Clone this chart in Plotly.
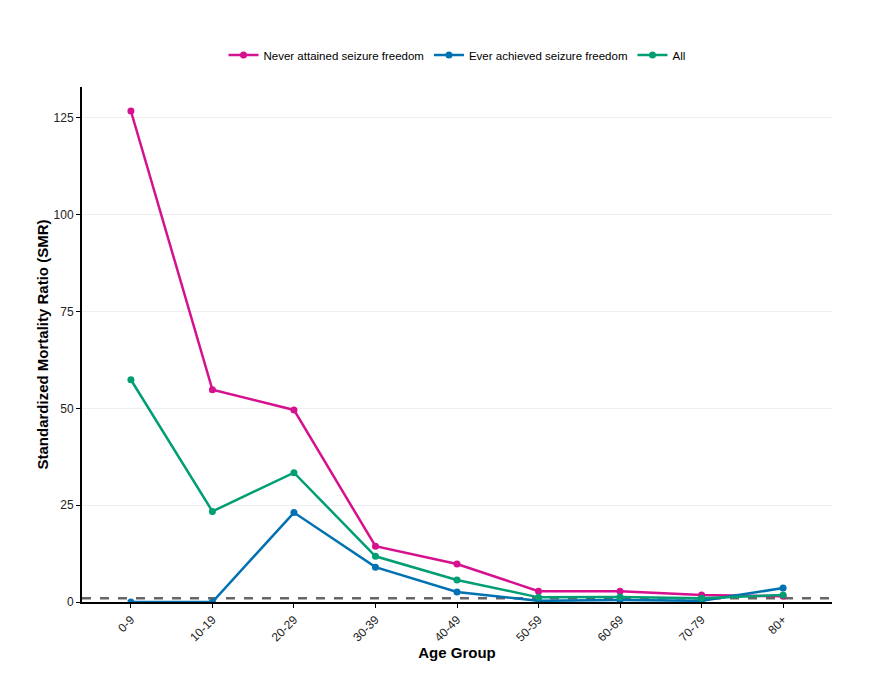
import plotly.graph_objects as go

age_groups = ["0-9", "10-19", "20-29", "30-39", "40-49", "50-59", "60-69", "70-79", "80+"]
never_smr = [126.8, 54.8, 49.6, 14.4, 9.8, 2.8, 2.8, 1.8, 1.5]
ever_smr = [0.0, 0.0, 23.1, 9.0, 2.6, 0.3, 0.5, 0.3, 3.6]
all_smr = [57.4, 23.4, 33.4, 11.8, 5.7, 1.2, 1.3, 1.0, 1.8]
y_ticks = [0, 25, 50, 75, 100, 125]

series = [
    ("Never attained seizure freedom", never_smr, "#D5118E"),
    ("Ever achieved seizure freedom", ever_smr, "#0072B2"),
    ("All", all_smr, "#009E73"),
]

fig = go.Figure()
for name, vals, col in series:
    fig.add_trace(go.Scatter(
        x=list(range(len(age_groups))), y=vals, name=name, mode="lines+markers",
        line=dict(color=col, width=2.5), marker=dict(color=col, size=7),
    ))

fig.add_shape(type="line", xref="paper", x0=0, x1=1, yref="y", y0=1, y1=1,
              line=dict(color="#666666", width=2.5, dash="dash"), layer="below")

fig.update_layout(
    width=869, height=696,
    paper_bgcolor="white", plot_bgcolor="white",
    margin=dict(l=74, r=45, t=79, b=102),
    font=dict(family="Liberation Sans, Arial, sans-serif", size=12, color="black"),
    legend=dict(orientation="h", x=0.5, xanchor="center", y=1.062, yanchor="middle",
                font=dict(size=11.5), itemwidth=30),
    xaxis=dict(
        range=[-0.6, 8.6], tickmode="array", tickvals=list(range(len(age_groups))),
        ticktext=age_groups, tickangle=-45, showline=True, linecolor="black", linewidth=2,
        ticks="outside", ticklen=4, tickcolor="black", showgrid=False, zeroline=False,
        title=dict(text="<b>Age Group</b>", font=dict(size=15), standoff=0),
        tickfont=dict(size=12, color="#222222"),
    ),
    yaxis=dict(
        range=[0, 133], tickvals=y_ticks, showline=True, linecolor="black", linewidth=2,
        ticks="outside", ticklen=4, tickcolor="black", showgrid=True, gridcolor="#EFEFEF",
        gridwidth=1, zeroline=False,
        title=dict(text="<b>Standardized Mortality Ratio (SMR)</b>", font=dict(size=15), standoff=1),
        tickfont=dict(size=12, color="#222222"),
    ),
)

fig.write_html("out.html")
